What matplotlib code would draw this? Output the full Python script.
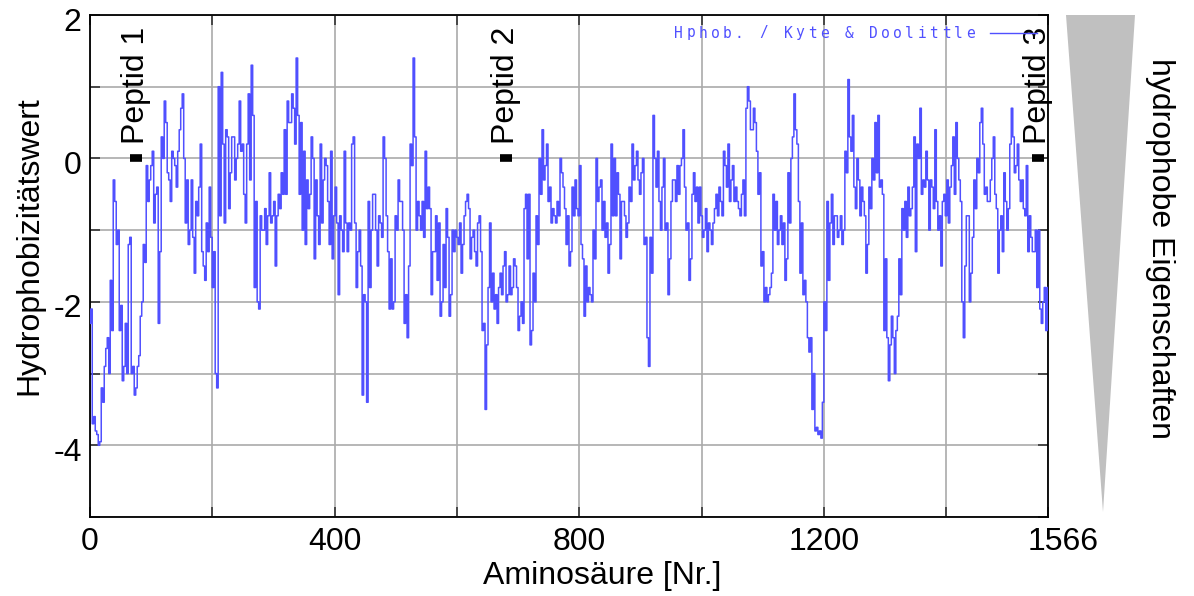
import numpy as np
import matplotlib
matplotlib.use("Agg")
import matplotlib.pyplot as plt
from matplotlib.patches import Polygon
from matplotlib.lines import Line2D
import matplotlib.transforms as mtransforms

plt.rcParams['font.family'] = ['Liberation Sans', 'DejaVu Sans']
plt.rcParams['axes.unicode_minus'] = False

# ---------------- data (Kyte & Doolittle hydrophobicity) -------------
n_residues = 1566
# value at each reading position (every ~4.9 residues)
hphob_values = [
    -2.3, -3.7, -3.8, -4.0, -3.2, -2.9, -2.5, -1.7, -0.3, -1.2, -2.4, -3.1, -2.3, -1.2, -3.0,
    -3.3, -2.9, -2.2, -1.2, -0.1, -0.3, 0.1, -0.5, -2.3, 0.3, 0.8, -0.2, -0.6, 0.0,
    -0.4, 0.4, 0.9, -0.9, -1.2, -0.3, -1.6, -0.8, 0.2, -1.5, -0.9, -0.4, -1.8, -3.0, 1.0,
    1.2, -0.9, 0.3, -0.2, 0.3, 0.0, 0.8, 0.2, -0.9, 0.9, 1.3, -1.8, -2.0, -0.8,
    -1.0, -1.2, -0.2, -0.8, -1.5, -0.5, -0.2, 0.4, 0.8, 0.5, 0.7, 1.4, -0.5, -1.0, -1.2,
    -0.7, 0.3, -1.4, -0.8, 0.2, -0.3, -0.1, -1.2, -1.4, -0.4, -1.9, -1.0, 0.1, -1.3,
    -1.0, 0.3, -1.8, -1.0, -3.3, -2.0, -0.6, -1.0, -0.5, -1.5, -0.9, 0.3, -0.8, -2.1, -2.1,
    -0.8, -0.3, -0.6, -2.3, -2.5, 0.2, 1.4, -1.0, -0.8, -0.6, 0.1, -0.4, -1.9, -1.3,
    -1.7, -2.2, -1.2, -0.7, -2.2, -1.0, -1.0, -1.2, -1.6, -0.8, -0.5, -1.4, -1.0, -1.5, -0.8,
    -2.4, -3.5, -1.8, -2.0, -2.1, -2.3, -1.6, -1.5, -2.0, -1.5, -1.8, -1.5, -2.4, -2.0, -0.7,
    -1.4, -2.6, -1.6, -0.8, 0.0, 0.4, -0.1, -0.6, -0.9, -0.8, -0.6, 0.0, -0.4, -1.2, -1.5,
    -0.4, -0.3, -0.8, -1.2, -2.2, -2.0, -1.9, -1.0, 0.0, -0.4, -1.0, -1.1, -1.6, 0.2,
    0.0, -0.2, -1.4, -0.6, -1.1, -0.4, 0.2, -0.1, -0.3, -0.2, -1.2, -2.5, -1.1, 0.6, -0.4,
    -0.6, -0.4, -1.0, -1.9, -0.6, -0.3, -0.1, -0.1, 0.4, -1.0, -1.7, -0.5, -0.6, -0.9, -0.8,
    -1.0, -1.3, -1.0, -0.9, -0.5, -0.4, -0.8, -0.1, 0.2, -0.3, -0.6, -0.6, -0.8, -0.3, 0.7,
    0.8, 0.4, 0.5, -0.5, -1.5, -2.0, -2.0, -1.8, -0.5, -0.6, -1.0, -1.2, -1.7, -0.2,
    0.0, 0.9, 0.2, -1.6, -1.9, -2.0, -2.7, -3.5, -3.8, -3.85, -3.9, -2.0, -0.6, -0.9, -1.2,
    -0.8, -1.0, -1.2, 0.1, 1.1, 0.1, -0.4, 0.0, -0.8, -0.6, -1.6, -0.4, 0.0, 0.5,
    0.6, -0.3, -2.4, -2.5, -2.6, -2.5, -2.4, -1.4, -0.7, -0.6, -0.4, -0.7, 0.3, 0.2, 0.7,
    -0.3, 0.1, -1.0, -0.4, 0.4, -1.0, -1.5, -0.5, -0.3, -0.4, 0.3, 0.5, -0.3, -2.0, -1.5,
    -0.8, -1.6, -0.3, 0.0, 0.5, 0.2, -0.4, -0.6, 0.0, -0.5, -1.6, -0.8, -0.2, -1.0, 0.2,
    0.3, -0.1, -0.3, -0.3, -0.8, -1.3, -1.1, -1.3, -1.8, -2.1, -2.0, -2.4,
]
# value half-way between consecutive reading positions
hphob_between = [
    -2.1, -3.6, -3.85, -3.95, -3.4, -2.65, -3.0, -2.4, -0.6, -1.0, -2.05, -2.9, -3.0, -1.1, -2.9,
    -3.2, -2.75, -2.0, -1.45, -0.6, -0.1, -0.9, -0.4, -1.3, 0.0, 0.5, -0.3, 0.1, -0.1,
    0.1, 0.7, 0.0, -0.3, -1.0, -1.1, -0.6, -0.4, -1.3, -1.7, -1.3, -1.1, -1.3, -3.2, -0.8,
    0.2, 0.4, -0.7, 0.3, -0.3, 0.2, 0.1, -0.5, 0.2, -0.3, 0.6, -0.6, -2.1, -1.0,
    -0.7, -0.8, -0.9, -0.6, -0.8, -0.7, -0.5, -0.5, 0.5, 0.9, 0.2, 0.6, 0.5, 0.1, -0.3,
    -0.5, 0.0, -0.3, -1.2, -0.9, 0.0, -0.6, 0.1, -0.8, -0.9, -0.8, -1.3, -0.9, -0.9,
    0.2, -0.9, -1.3, -1.5, -1.9, -3.4, -1.8, -0.5, -1.0, -0.8, -1.1, 0.0, -1.3, -1.4, -2.0,
    -1.0, -0.6, -1.0, -1.9, -1.5, -0.1, 0.3, -0.6, -1.0, -1.1, -0.7, -0.7, -1.3, -0.8,
    -0.9, -2.0, -1.8, -1.1, -1.9, -1.3, -1.1, -0.9, -1.2, -0.6, -0.7, -1.1, -1.3, -0.9, -1.3,
    -2.3, -2.6, -0.9, -1.6, -1.9, -1.8, -1.9, -1.3, -1.9, -1.9, -1.4, -1.8, -2.2, -2.3, -0.5,
    -0.5, -2.4, -2.0, -1.2, -0.5, -0.3, 0.2, -0.4, -0.7, -0.9, -0.8, -0.2, -0.7, -0.8, -1.3,
    -0.8, -0.7, -0.1, -1.4, -1.5, -1.8, -2.0, -1.4, -0.6, -0.3, -0.6, -0.9, -1.2, -0.8,
    -0.8, -0.5, -0.6, -0.8, -0.9, -0.6, -0.3, 0.1, -0.5, 0.0, -1.1, -2.9, -1.6, 0.0, 0.1,
    -1.0, 0.0, -0.9, -1.4, -0.3, -0.6, -0.5, 0.0, -0.4, -0.9, -1.4, -0.2, -0.4, -0.4, -1.1,
    -0.7, -0.9, -1.2, -0.7, -0.8, -0.6, 0.1, -0.4, -0.6, -0.1, -0.4, -0.7, -0.5, -0.8, 1.0,
    0.4, 0.7, 0.1, -0.2, -1.3, -1.8, -1.9, -1.6, -1.0, -1.2, -0.8, -0.9, -1.4, -0.9,
    0.3, 0.4, -0.6, -0.9, -1.7, -2.5, -2.5, -3.0, -3.75, -3.8, -3.4, -2.4, -1.7, -0.5, -0.8,
    -1.1, -0.8, -1.0, -0.2, 0.3, 0.6, -0.7, -0.3, -0.4, -0.8, -1.2, -0.7, -0.3, -0.2,
    -0.4, -0.5, -1.4, -3.1, -2.2, -3.0, -2.2, -1.9, -1.0, -1.1, -0.8, -0.4, -1.3, 0.0, -0.5,
    -0.4, -0.3, -0.3, -0.7, -0.6, -0.8, -0.6, -0.8, -0.9, -0.1, -0.5, 0.0, -0.6, -2.5, -0.8,
    -2.0, -1.1, -0.7, -0.2, 0.7, -0.5, -0.6, -0.3, 0.3, -0.7, -1.0, -1.3, -0.6, -0.7, 0.7,
    -0.2, 0.2, -0.6, -0.7, -0.1, -0.8, -1.3, -1.0, -1.0, -2.3, -1.8, -1.8,
]

peptide_labels = ["Peptid 1", "Peptid 2", "Peptid 3"]
peptide_positions = [76, 680, 1550]
peptide_level = [0.0, 0.0, 0.0]

x_tick_values = [0, 200, 400, 600, 800, 1000, 1200, 1400, 1566]
x_tick_labels = ["0", "", "400", "", "800", "", "1200", "", "1566"]
y_tick_values = [-5, -4, -3, -2, -1, 0, 1, 2]
y_tick_labels = ["", "-4", "", "-2", "", "0", "", "2"]

legend_label = "Hphob. / Kyte & Doolittle"
x_label = "Aminosäure [Nr.]"
y_label = "Hydrophobizitätswert"
side_label = "hydrophobe Eigenschaften"

# ---------------- figure ----------------
W, H = 1194, 596
fig = plt.figure(figsize=(W / 100, H / 100), dpi=100)

def fx(px):
    return px / W

def fy(py):
    return 1 - py / H

ax = fig.add_axes([fx(90), fy(517), fx(1048) - fx(90), fy(15) - fy(517)])

line_color = "#5050ff"
series = np.empty(2 * len(hphob_values))
series[0::2] = hphob_values
series[1::2] = hphob_between
residues = np.linspace(0, n_residues, len(series))
ax.plot(residues, series, color=line_color, lw=1.1, drawstyle="steps-mid", zorder=3)

ax.set_xlim(0, n_residues)
ax.set_ylim(-5, 2)
FS = 23
ax.set_xticks(x_tick_values)
ax.set_xticklabels(x_tick_labels, fontsize=FS)
ax.set_yticks(y_tick_values)
ax.set_yticklabels(y_tick_labels, fontsize=FS)
ax.tick_params(direction="in", length=7, width=1.2, colors="#333333", labelcolor="black",
               top=True, right=True)
ax.tick_params(axis="x", pad=7)
ax.tick_params(axis="y", pad=6)
ax.grid(True, color="#aaaaaa", lw=1.2, zorder=1)
for sp in ax.spines.values():
    sp.set_linewidth(1.3)
    sp.set_color("black")

# tick-label offsets as in the reference
last = ax.get_xticklabels()[-1]
last.set_transform(last.get_transform() + mtransforms.ScaledTranslation(15 / 100, 0, fig.dpi_scale_trans))
for lab in ax.get_yticklabels():
    lab.set_transform(lab.get_transform() + mtransforms.ScaledTranslation(0, -4 / 100, fig.dpi_scale_trans))

ax.set_xlabel(x_label, fontsize=FS)
ax.xaxis.set_label_coords((602 - 90) / 958, -0.088)
ax.set_ylabel(y_label, fontsize=FS)
ax.yaxis.set_label_coords((44 - 90) / 958, 0.54)

# peptide markers and labels
for lab, pos, lev in zip(peptide_labels, peptide_positions, peptide_level):
    ax.plot([pos], [lev], marker="_", markersize=8, markeredgewidth=5.5, color="black",
            zorder=5, clip_on=False)
    ax.text(pos, lev + 0.2, lab, rotation=90, ha="center", va="bottom", fontsize=FS,
            zorder=6, clip_on=False)

# legend, letter-spaced monospace like the reference
for i, ch in enumerate(legend_label):
    fig.text(fx(674 + 12.17 * i), fy(33), ch, fontsize=10.5, family="DejaVu Sans Mono",
             color=line_color, ha="left", va="center")
fig.add_artist(Line2D([fx(990), fx(1037)], [fy(33), fy(33)], color=line_color, lw=1.0))

# grey wedge at the right
wedge = Polygon([(fx(1066), fy(15)), (fx(1135), fy(15)), (fx(1103), fy(512))],
                closed=True, transform=fig.transFigure, facecolor="#c0c0c0", edgecolor="none")
fig.add_artist(wedge)
fig.text(fx(1160), fy(248), side_label, rotation=-90, ha="center", va="center", fontsize=FS)

fig.savefig("out.png", dpi=100)
